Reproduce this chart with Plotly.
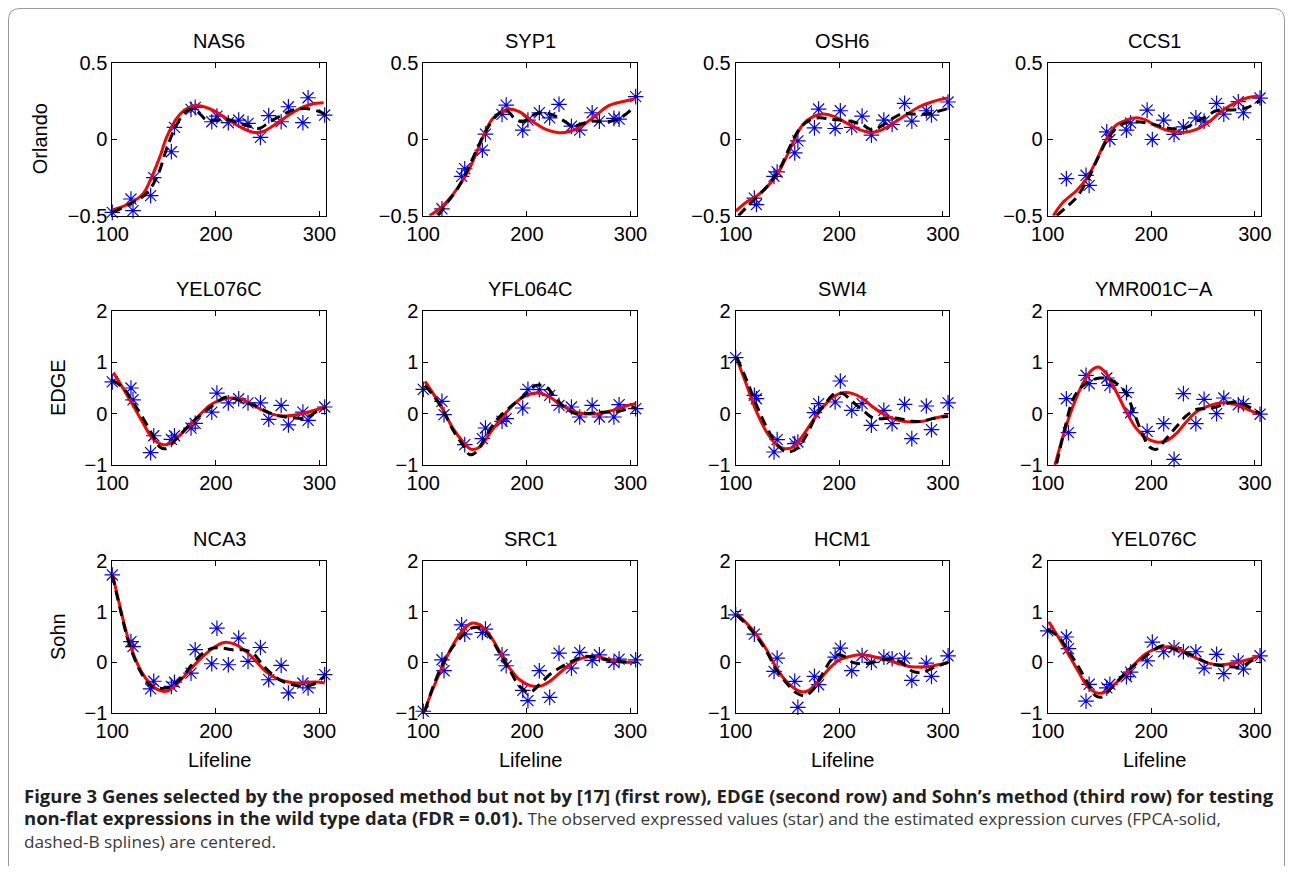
import plotly.graph_objects as go

SCREEN_W, SCREEN_H = 1293, 874
BODY_MARGIN = 8  # default page margin around the plot div
W, H = SCREEN_W - 2 * BODY_MARGIN, SCREEN_H - 2 * BODY_MARGIN

# Lifeline time points (shared by all genes)
TIME = [100, 118, 120, 137, 140, 157, 160, 176, 180, 196, 201, 212, 222, 231, 243, 251, 263, 270, 284, 289, 305]

# ---------- observed values (stars) ----------
NAS6_obs = [-0.478, -0.391, -0.467, -0.369, -0.251, -0.082, 0.077, 0.195, 0.208, 0.114, 0.151, 0.108, 0.125, 0.103, 0.012, 0.154, 0.114, 0.212, 0.108, 0.271, 0.158]
SYP1_obs = [None, -0.455, None, -0.243, -0.193, -0.072, 0.033, 0.162, 0.223, 0.059, 0.125, 0.173, 0.14, 0.228, 0.085, 0.059, 0.173, 0.118, 0.136, 0.131, 0.278]
OSH6_obs = [None, -0.385, -0.427, -0.243, -0.214, -0.09, -0.011, 0.074, 0.197, 0.07, 0.186, 0.077, 0.151, 0.026, 0.125, 0.096, 0.234, 0.118, 0.186, 0.158, 0.243]
CCS1_obs = [None, -0.258, None, -0.236, -0.302, 0.048, -0.002, 0.059, 0.107, 0.19, -0.002, 0.125, 0.031, 0.081, 0.14, 0.118, 0.234, 0.164, 0.245, 0.173, 0.269]
YEL076C_obs = [0.62, 0.50, 0.27, -0.76, -0.43, -0.50, -0.43, -0.28, -0.19, 0.03, 0.40, 0.21, 0.29, 0.21, 0.21, -0.11, 0.16, -0.22, 0.03, -0.13, 0.13]
YFL064C_obs = [0.474, 0.24, -0.019, None, -0.604, -0.487, -0.279, -0.149, -0.097, 0.11, 0.474, 0.468, 0.357, 0.162, 0.13, -0.065, 0.162, -0.065, -0.065, 0.175, 0.097]
SWI4_obs = [1.09, 0.357, 0.292, -0.747, -0.506, -0.584, -0.552, 0.019, 0.195, 0.227, 0.636, 0.065, 0.195, -0.227, 0.065, -0.195, 0.182, -0.487, 0.149, -0.312, 0.21]
YMR001CA_obs = [None, 0.292, -0.37, 0.747, 0.584, 0.695, 0.552, 0.409, 0.019, -0.344, None, -0.195, -0.89, 0.39, -0.195, 0.279, 0.0, 0.305, 0.175, 0.195, -0.01]
NCA3_obs = [1.72, 0.41, 0.31, -0.52, -0.37, -0.47, -0.39, -0.21, 0.25, -0.026, 0.673, -0.046, 0.477, 0.02, 0.294, -0.34, -0.059, -0.6, -0.405, -0.5, -0.24]
SRC1_obs = [-0.96, 0.052, -0.163, 0.739, 0.556, 0.588, 0.654, 0.15, -0.065, -0.549, -0.75, -0.163, -0.686, 0.183, -0.111, 0.196, 0.039, 0.15, 0.0, 0.065, 0.052]
HCM1_obs = [0.935, 0.556, None, -0.176, 0.085, -0.373, -0.882, -0.275, -0.438, 0.105, 0.281, -0.163, 0.137, 0.0, 0.105, 0.072, 0.085, -0.353, -0.013, -0.275, 0.13]

# ---------- FPCA curves (solid red): (lifeline, value) ----------
NAS6_fpca = [(100, -0.463), (118, -0.415), (130, -0.354), (136, -0.278), (146, -0.114), (152, 0.005), (160, 0.114), (168, 0.18), (178, 0.217), (184, 0.219), (197, 0.19), (210, 0.136), (223, 0.082), (236, 0.045), (245, 0.049), (255, 0.086), (268, 0.147), (280, 0.197), (293, 0.23), (304, 0.238)]
SYP1_fpca = [(106, -0.5), (118, -0.44), (129, -0.357), (142, -0.225), (151, -0.094), (159, 0.037), (167, 0.136), (177, 0.184), (183, 0.197), (193, 0.179), (206, 0.114), (219, 0.063), (231, 0.042), (241, 0.05), (254, 0.092), (267, 0.158), (279, 0.219), (292, 0.245), (304, 0.263)]
OSH6_fpca = [(100, -0.47), (110.6, -0.41), (120.2, -0.372), (129.8, -0.313), (139.4, -0.236), (149, -0.116), (157, 0.004), (165, 0.098), (174.7, 0.147), (184.3, 0.164), (193.9, 0.151), (206.7, 0.107), (219.6, 0.063), (229.2, 0.044), (238.8, 0.055), (251.6, 0.103), (264.4, 0.158), (277.2, 0.212), (290, 0.245), (305, 0.27)]
CCS1_fpca = [(105.4, -0.5), (115, -0.411), (128, -0.335), (137.5, -0.258), (147, -0.138), (157, 0.004), (166, 0.092), (176, 0.125), (186, 0.14), (195, 0.125), (205, 0.085), (218, 0.053), (230, 0.044), (243, 0.063), (256, 0.114), (269, 0.19), (282, 0.241), (293, 0.271), (305, 0.28)]
YEL076C_fpca = [(101, 0.8), (110.6, 0.487), (120, 0.162), (130, -0.195), (139, -0.487), (149, -0.604), (155.4, -0.584), (165, -0.422), (175, -0.227), (184, -0.032), (194, 0.162), (203.5, 0.26), (213, 0.305), (223, 0.292), (232, 0.214), (242, 0.097), (255, -0.013), (268, -0.045), (280, -0.013), (293, 0.052), (305, 0.13)]
YFL064C_fpca = [(101.6, 0.63), (109.6, 0.39), (119.2, 0.065), (128.8, -0.292), (138.5, -0.552), (146.5, -0.695), (154.5, -0.649), (164, -0.39), (173.7, -0.13), (183.3, 0.097), (193, 0.279), (202.6, 0.377), (212, 0.403), (221.8, 0.325), (231.4, 0.195), (241, 0.078), (250.6, 0.013), (260.3, -0.006), (270, 0.0), (282.7, 0.065), (295.5, 0.149), (304.5, 0.195)]
SWI4_fpca = [(101, 1.07), (110.6, 0.552), (120.2, 0.032), (129.8, -0.357), (139.4, -0.604), (147.4, -0.682), (155.4, -0.649), (165, -0.422), (174.7, -0.13), (184.3, 0.13), (193.9, 0.325), (203.5, 0.409), (213.1, 0.39), (222.8, 0.292), (232.4, 0.13), (242, 0.0), (251.6, -0.097), (261.2, -0.149), (270.8, -0.162), (280.4, -0.149), (290, -0.097), (305, -0.03)]
YMR001CA_fpca = [(107, -1.0), (115, -0.422), (124.7, 0.162), (134.3, 0.604), (142.3, 0.844), (148.7, 0.909), (156.7, 0.779), (166.3, 0.422), (176, 0.032), (185.6, -0.292), (195.2, -0.474), (204.8, -0.552), (214.4, -0.532), (224, -0.39), (233.7, -0.162), (243.3, 0.032), (253, 0.13), (262.5, 0.195), (272, 0.214), (281.7, 0.175), (291.3, 0.097), (305, -0.02)]
NCA3_fpca = [(100, 1.75), (107.4, 1.1), (113.8, 0.575), (120, 0.183), (128, -0.176), (136, -0.405), (144, -0.536), (152, -0.569), (160, -0.47), (168, -0.307), (178, -0.078), (187.5, 0.118), (197, 0.281), (208, 0.392), (219.6, 0.346), (229, 0.216), (238.8, 0.02), (248, -0.176), (258, -0.307), (267.6, -0.373), (277, -0.405), (287, -0.392), (296.5, -0.386), (305, -0.405)]
SRC1_fpca = [(101.6, -0.93), (109.6, -0.503), (119.2, -0.046), (128.8, 0.346), (138.5, 0.64), (146.5, 0.771), (154.5, 0.739), (164, 0.542), (173.7, 0.216), (183.3, -0.111), (193, -0.34), (202.6, -0.451), (212, -0.47), (221.8, -0.373), (231.4, -0.209), (241, -0.046), (250.6, 0.065), (260.3, 0.118), (270, 0.105), (279.5, 0.052), (289, 0.013), (305, 0.0)]
HCM1_fpca = [(101, 0.954), (110.6, 0.771), (120.2, 0.542), (129.8, 0.248), (139.4, -0.111), (149, -0.373), (158.7, -0.536), (165, -0.582), (171.5, -0.536), (181.1, -0.34), (190.7, -0.111), (200.3, 0.052), (210, 0.118), (219.6, 0.15), (229.2, 0.131), (238.8, 0.085), (248.4, 0.033), (258, -0.026), (267.6, -0.078), (277.2, -0.092), (287, -0.078), (305, 0.0)]

# ---------- B-spline curves (dashed black): (lifeline, value) ----------
NAS6_bs = [(100, -0.478), (118, -0.42), (133, -0.354), (144, -0.234), (152, -0.07), (162, 0.093), (171, 0.18), (178, 0.197), (184, 0.169), (191, 0.125), (200, 0.125), (210, 0.13), (223, 0.103), (232, 0.086), (242, 0.071), (252, 0.114), (264, 0.158), (274, 0.19), (287, 0.2), (300, 0.18), (305, 0.164)]
SYP1_bs = [(114.4, -0.5), (122.4, -0.42), (132, -0.335), (141.7, -0.214), (151.3, -0.072), (160.9, 0.059), (170.5, 0.153), (180.1, 0.19), (188.1, 0.136), (196.2, 0.114), (205.8, 0.158), (215.4, 0.175), (225, 0.158), (234.6, 0.125), (244.2, 0.085), (253.8, 0.103), (263.5, 0.118), (273.1, 0.114), (282.7, 0.12), (292.3, 0.147), (300.3, 0.19)]
OSH6_bs = [(102.6, -0.5), (110.6, -0.444), (120.2, -0.379), (131.4, -0.302), (142.6, -0.193), (152.2, -0.05), (161.9, 0.07), (171.5, 0.125), (181.1, 0.14), (190.7, 0.131), (200.3, 0.125), (213.1, 0.114), (222.8, 0.092), (232.4, 0.059), (242, 0.092), (251.6, 0.136), (261.2, 0.168), (270.8, 0.164), (283.7, 0.164), (293.3, 0.179), (305, 0.2)]
CCS1_bs = [(108.7, -0.5), (118, -0.444), (128, -0.379), (139, -0.258), (149, -0.116), (157, -0.007), (166, 0.07), (176, 0.109), (186, 0.114), (195, 0.107), (205, 0.092), (214, 0.074), (224, 0.066), (234, 0.077), (243, 0.114), (253, 0.147), (262, 0.184), (272, 0.19), (285, 0.195), (293, 0.208), (305, 0.25)]
YEL076C_bs = [(100, 0.65), (110.6, 0.5), (120, 0.227), (130, -0.097), (139, -0.422), (146, -0.649), (152, -0.682), (162, -0.487), (171.5, -0.279), (181, -0.097), (191, 0.065), (200, 0.208), (210, 0.325), (219.6, 0.279), (229, 0.214), (239, 0.149), (248.7, 0.045), (258, -0.032), (268, -0.065), (277, -0.084), (287, -0.084), (296.5, 0.032), (305, 0.11)]
YFL064C_bs = [(101.6, 0.55), (109.6, 0.357), (119.2, 0.065), (128.8, -0.325), (138.5, -0.617), (145, -0.8), (151, -0.747), (160.9, -0.422), (170.5, -0.13), (180.1, 0.065), (189.7, 0.227), (199.4, 0.39), (209, 0.552), (218.6, 0.519), (228.2, 0.292), (237.8, 0.097), (247.4, 0.0), (257, 0.0), (266.7, 0.019), (276.3, 0.032), (286, 0.032), (295.5, 0.084), (304.5, 0.13)]
SWI4_bs = [(101, 1.1), (110.6, 0.65), (120.2, 0.162), (129.8, -0.26), (139.4, -0.584), (149, -0.747), (158.7, -0.682), (168.3, -0.422), (177.9, -0.032), (187.5, 0.227), (195.5, 0.39), (203.5, 0.39), (213.1, 0.227), (222.8, 0.065), (232.4, -0.084), (242, -0.097), (251.6, -0.084), (261.2, -0.11), (270.8, -0.149), (280.4, -0.149), (290, -0.097), (305, -0.05)]
YMR001CA_bs = [(108.7, -0.97), (115, -0.42), (124.7, 0.292), (132.7, 0.52), (140.7, 0.63), (150.3, 0.695), (160, 0.669), (169.6, 0.539), (176, 0.39), (182.4, 0.065), (192, -0.422), (198.4, -0.649), (204.8, -0.695), (214.4, -0.487), (224, -0.26), (233.7, -0.045), (243.3, 0.084), (253, 0.097), (262.5, 0.13), (272, 0.195), (281.7, 0.227), (291.3, 0.162), (305, 0.0)]
NCA3_bs = [(100, 1.72), (107.4, 1.065), (113.8, 0.54), (120, 0.15), (128, -0.21), (136, -0.438), (144, -0.503), (152, -0.503), (160, -0.438), (168, -0.275), (178, -0.013), (187.5, 0.183), (197, 0.281), (206.7, 0.281), (216, 0.248), (226, 0.248), (235.6, 0.183), (245, -0.046), (254.8, -0.242), (264.4, -0.373), (274, -0.438), (283.7, -0.47), (293, -0.438), (305, -0.275)]
SRC1_bs = [(101.6, -0.96), (109.6, -0.47), (119.2, -0.013), (128.8, 0.314), (138.5, 0.542), (146.5, 0.673), (156, 0.673), (164, 0.51), (173.7, 0.183), (183.3, -0.144), (193, -0.47), (202.6, -0.588), (212, -0.438), (221.8, -0.242), (231.4, -0.111), (241, 0.0), (250.6, 0.085), (260.3, 0.118), (270, 0.085), (279.5, 0.039), (289, 0.02), (302, 0.0)]
HCM1_bs = [(101, 0.935), (110.6, 0.739), (120.2, 0.51), (129.8, 0.216), (139.4, -0.144), (149, -0.405), (158.7, -0.601), (166.7, -0.654), (174.7, -0.536), (184.3, -0.209), (192.3, 0.052), (198.7, 0.15), (205, 0.118), (213.1, 0.0), (222.8, -0.026), (232.4, 0.0), (242, 0.052), (251.6, 0.065), (261.2, -0.013), (270.8, -0.176), (280.4, -0.196), (290, -0.111), (305, 0.0)]

PANELS = [
    ("NAS6", NAS6_obs, NAS6_fpca, NAS6_bs),
    ("SYP1", SYP1_obs, SYP1_fpca, SYP1_bs),
    ("OSH6", OSH6_obs, OSH6_fpca, OSH6_bs),
    ("CCS1", CCS1_obs, CCS1_fpca, CCS1_bs),
    ("YEL076C", YEL076C_obs, YEL076C_fpca, YEL076C_bs),
    ("YFL064C", YFL064C_obs, YFL064C_fpca, YFL064C_bs),
    ("SWI4", SWI4_obs, SWI4_fpca, SWI4_bs),
    ("YMR001C\u2212A", YMR001CA_obs, YMR001CA_fpca, YMR001CA_bs),
    ("NCA3", NCA3_obs, NCA3_fpca, NCA3_bs),
    ("SRC1", SRC1_obs, SRC1_fpca, SRC1_bs),
    ("HCM1", HCM1_obs, HCM1_fpca, HCM1_bs),
    ("YEL076C", YEL076C_obs, YEL076C_fpca, YEL076C_bs),
]
ROW_LABELS = ["Orlando", "EDGE", "Sohn"]
X_TICKS = [100, 200, 300]
Y_TICKS_ROW1 = [-0.5, 0, 0.5]
Y_TICKS_OTHER = [-1, 0, 1, 2]

# ---------- layout geometry (screen pixels) ----------
COL_PX = [(112.3, 325.7), (423.3, 636.7), (735.7, 949.1), (1047.7, 1261.1)]
ROW_PX = [(62.7, 215.7), (311.0, 465.0), (560.7, 713.3)]
FONT = "Liberation Sans, Arial, Helvetica, sans-serif"
TICK_SIZE = 20
TITLE_SIZE = 20


def px_x(v):
    return (v - BODY_MARGIN) / W


def px_y(v):
    return 1 - (v - BODY_MARGIN) / H


fig = go.Figure()
layout = dict(
    template="none",
    width=W, height=H, autosize=False,
    margin=dict(l=0, r=0, t=0, b=0, pad=0),
    paper_bgcolor="white", plot_bgcolor="white",
    showlegend=False,
    font=dict(family=FONT, color="black", size=TICK_SIZE),
)
annotations = []

for i, (name, obs, fpca, bs) in enumerate(PANELS):
    r, c = divmod(i, 4)
    sfx = "" if i == 0 else str(i + 1)
    xa, ya = "x" + sfx, "y" + sfx
    fig.add_trace(go.Scatter(
        x=TIME, y=obs, xaxis=xa, yaxis=ya, mode="markers", cliponaxis=False,
        marker=dict(symbol="asterisk-open", size=13, color="#0000ff",
                    line=dict(color="#0000ff", width=1.2)),
    ))
    fig.add_trace(go.Scatter(
        x=[p[0] for p in fpca], y=[p[1] for p in fpca], xaxis=xa, yaxis=ya,
        mode="lines", line=dict(color="#ff0000", width=3, shape="spline", smoothing=1.0),
    ))
    fig.add_trace(go.Scatter(
        x=[p[0] for p in bs], y=[p[1] for p in bs], xaxis=xa, yaxis=ya,
        mode="lines", line=dict(color="black", width=3, dash="10px,6px", shape="spline", smoothing=1.0),
    ))
    x0, x1 = COL_PX[c]
    y0, y1 = ROW_PX[r]
    common = dict(showline=True, linecolor="black", linewidth=1, mirror="ticks",
                  ticks="inside", ticklen=5, tickwidth=1, tickcolor="black",
                  showgrid=False, zeroline=False, automargin=False,
                  tickfont=dict(family=FONT, size=TICK_SIZE, color="black"))
    layout["xaxis" + sfx] = dict(domain=[px_x(x0), px_x(x1)], anchor=ya,
                                 range=[100, 306], tickvals=X_TICKS, **common)
    ytv = Y_TICKS_ROW1 if r == 0 else Y_TICKS_OTHER
    yr = [-0.5, 0.5] if r == 0 else [-1, 2]
    layout["yaxis" + sfx] = dict(domain=[px_y(y1), px_y(y0)], anchor=xa,
                                 range=yr, tickvals=ytv, **common)
    annotations.append(dict(text=name, x=px_x((x0 + x1) / 2), y=px_y(y0 - 22),
                            xref="paper", yref="paper", showarrow=False,
                            xanchor="center", yanchor="middle",
                            font=dict(family=FONT, size=TITLE_SIZE, color="black")))
    if r == 2:
        annotations.append(dict(text="Lifeline", x=px_x((x0 + x1) / 2), y=px_y(760),
                                xref="paper", yref="paper", showarrow=False,
                                xanchor="center", yanchor="middle",
                                font=dict(family=FONT, size=TITLE_SIZE, color="black")))

ROW_LABEL_X = [40, 58, 58]
for r, lab in enumerate(ROW_LABELS):
    y0, y1 = ROW_PX[r]
    annotations.append(dict(text=lab, x=px_x(ROW_LABEL_X[r]), y=px_y((y0 + y1) / 2),
                            xref="paper", yref="paper", showarrow=False, textangle=-90,
                            xanchor="center", yanchor="middle",
                            font=dict(family=FONT, size=TITLE_SIZE, color="black")))

# caption (one text block, three lines)
CAP_FONT = "Open Sans, Noto Sans, sans-serif"
CAP_BOLD_1 = "Figure 3 Genes selected by the proposed method but not by [17] (first row), EDGE (second row) and Sohn\u2019s method (third row) for testing"
CAP_BOLD_2 = "non-flat expressions in the wild type data (FDR = 0.01)."
CAP_REG_2 = "The observed expressed values (star) and the estimated expression curves (FPCA-solid,"
CAP_REG_3 = "dashed-B splines) are centered."
BSPAN = '<span style="font-size:18.5px;font-weight:bold;fill:#231f20">'
caption = (f"{BSPAN}{CAP_BOLD_1}</span><br>"
           f"{BSPAN}{CAP_BOLD_2}</span> {CAP_REG_2}<br>"
           f"{CAP_REG_3}")
annotations.append(dict(text=caption, x=px_x(22), y=px_y(781), xref="paper", yref="paper",
                        showarrow=False, xanchor="left", yanchor="top", align="left",
                        font=dict(family=CAP_FONT, size=17.2, color="#3a3a3a")))

layout["annotations"] = annotations


def P(x, y):
    return f"{px_x(x):.5f},{px_y(y):.5f}"


border = (f"M {P(8.5, 900)} L {P(8.5, 20)} Q {P(8.5, 8.5)} {P(20, 8.5)} "
          f"L {P(1273, 8.5)} Q {P(1284.5, 8.5)} {P(1284.5, 20)} L {P(1284.5, 900)}")
layout["shapes"] = [dict(type="path", xref="paper", yref="paper", path=border,
                         line=dict(color="#9a9a9a", width=1))]

fig.update_layout(**layout)
fig.write_html("out.html")
